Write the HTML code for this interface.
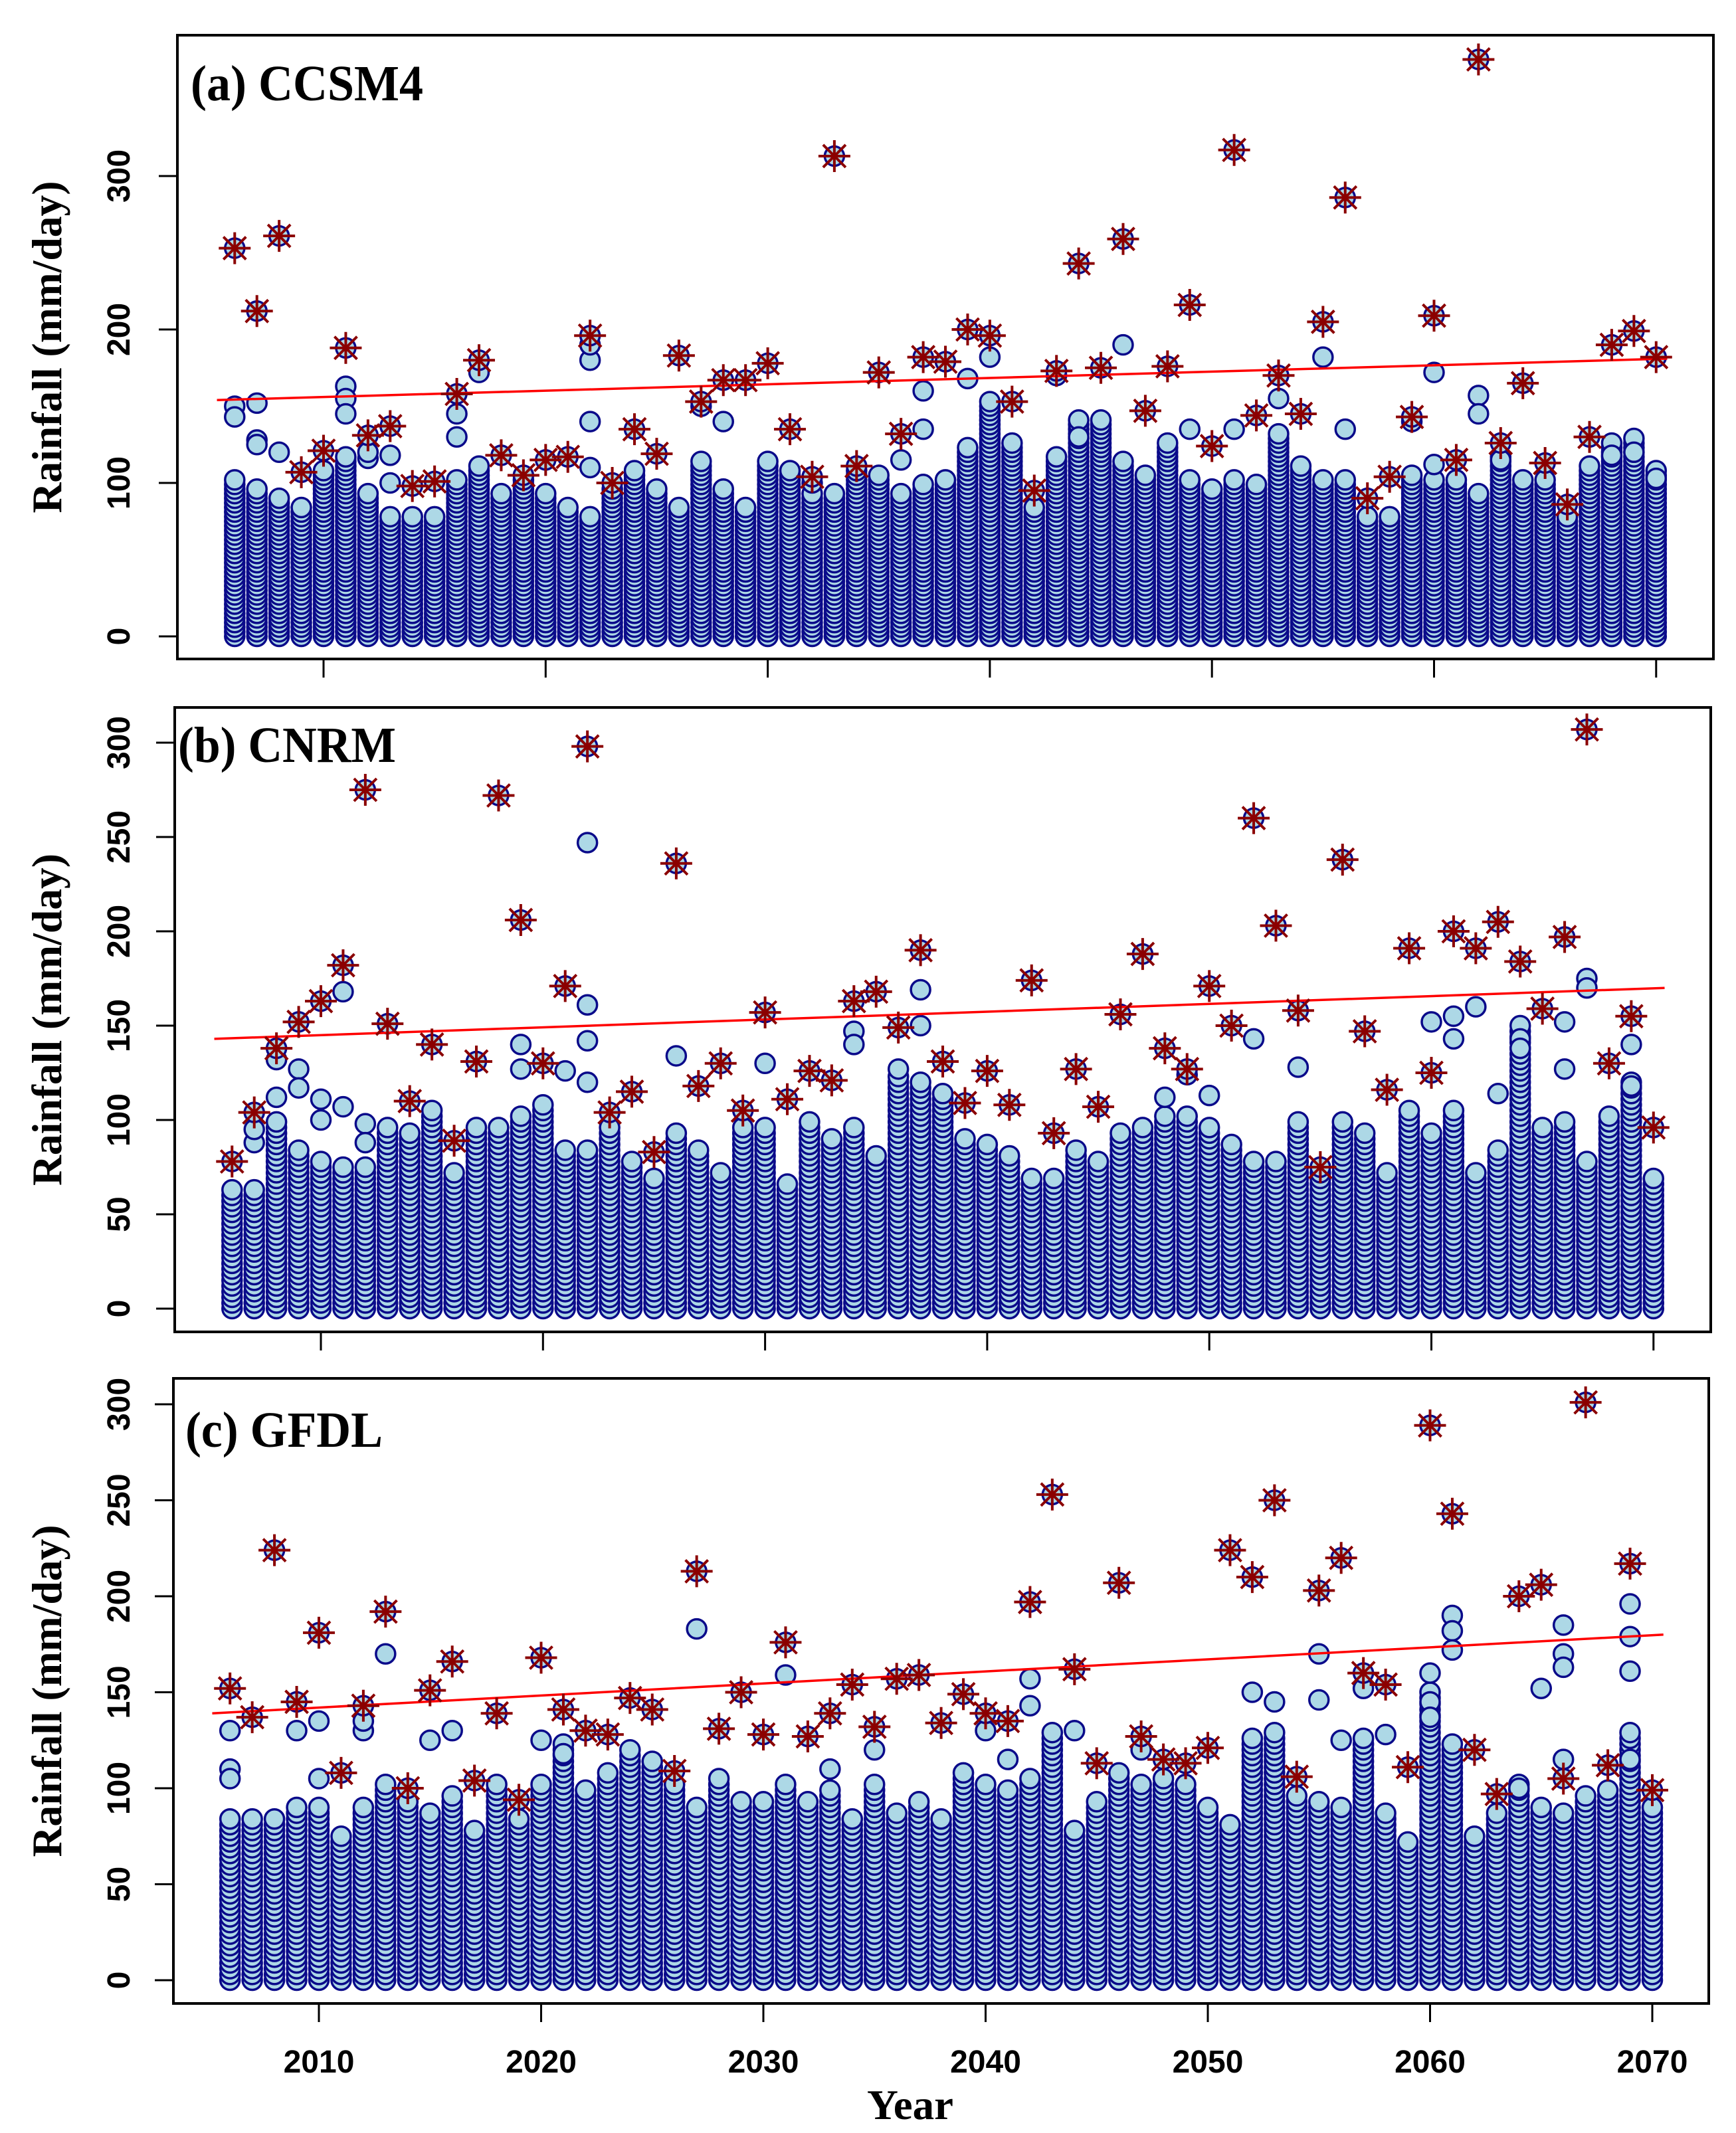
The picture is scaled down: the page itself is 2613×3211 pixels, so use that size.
<!DOCTYPE html>
<html><head><meta charset="utf-8"><style>
html,body{margin:0;padding:0;background:#fff;}
svg{display:block;}
</style></head><body>
<svg id="chart" xmlns="http://www.w3.org/2000/svg" width="2613" height="3211" viewBox="0 0 2613 3211">
<rect x="0" y="0" width="2613" height="3211" fill="#fff"/>
<g id="layer"></g>
</svg>
<script>
// ---------- DATA ----------
const years = [];
for (let y = 2006; y <= 2070; y++) years.push(y);

// annual maximum (asterisks)
const maxA = [253,212,261,107,121,188,131,137,98,101,158,180,118,105,115,117,196,100,135,119,183,153,167,167,178,135,104,313,111,172,132,182,179,200,196,153,95,173,243,175,259,147,176,216,124,317,144,170,145,205,286,90,104,143,209,115,376,126,165,113,86,130,190,199,182];
const maxB = [78,104,138,152,163,182,275,151,110,140,89,131,272,206,130,171,298,104,115,83,236,118,130,105,157,111,126,121,163,168,149,190,131,109,126,108,174,93,127,107,156,188,138,127,171,150,260,203,158,75,238,147,116,191,125,200,191,205,184,159,197,307,130,155,96];
const maxC = [152,137,224,145,181,108,143,192,100,151,166,104,139,94,168,141,130,128,147,141,109,213,131,150,128,176,127,139,154,132,157,159,134,149,139,135,197,253,162,113,207,127,115,113,121,224,210,250,106,203,220,160,154,111,289,243,120,97,200,206,105,301,112,217,99];

// top of the dense daily-rainfall column per year
const bulkA = [103,96,90,85,110,118,93,80,80,80,102,112,93,102,93,86,80,96,108,96,86,115,96,86,115,108,94,94,108,105,93,100,102,123,155,128,86,119,142,142,115,105,126,102,96,102,100,134,111,103,103,80,80,105,102,102,93,119,103,103,80,111,128,129,108];
const bulkB = [65,63,100,86,80,75,75,96,93,105,74,96,96,104,110,86,86,96,79,70,93,86,74,96,97,67,100,91,96,83,124,122,116,91,88,83,70,71,86,79,93,97,102,102,96,88,80,80,100,74,101,95,74,106,93,106,74,86,150,96,101,80,102,122,70];
const bulkC = [84,84,84,92,92,75,92,104,94,89,97,79,102,84,104,123,100,109,122,115,104,92,107,95,93,102,94,99,85,102,89,93,85,109,102,99,105,130,80,94,108,104,107,104,92,83,127,129,98,93,91,126,87,73,150,125,76,89,104,91,88,97,99,130,92];

// isolated high daily values [year, value]
const extraA = [[2006,150],[2006,143],[2007,152],[2007,128],[2007,125],[2008,120],[2011,163],[2011,155],[2011,145],[2012,116],[2012,120],[2013,118],[2013,100],[2016,145],[2016,130],[2017,172],[2022,180],[2022,190],[2022,140],[2022,110],[2027,150],[2028,140],[2032,100],[2036,115],[2037,160],[2037,135],[2039,168],[2040,182],[2043,170],[2044,130],[2046,190],[2049,135],[2051,135],[2053,155],[2055,182],[2056,135],[2059,140],[2060,172],[2060,112],[2062,157],[2062,145],[2063,115],[2068,118],[2069,120],[2070,103]];
const extraB = [[2007,88],[2007,95],[2008,132],[2008,112],[2009,127],[2009,117],[2010,111],[2010,100],[2011,168],[2011,107],[2012,98],[2012,88],[2019,140],[2019,127],[2021,126],[2022,247],[2022,161],[2022,142],[2022,120],[2026,134],[2030,130],[2034,147],[2034,140],[2036,127],[2037,169],[2037,150],[2048,112],[2049,124],[2050,113],[2052,143],[2054,128],[2060,152],[2061,155],[2061,143],[2062,160],[2063,114],[2064,143],[2064,138],[2066,152],[2066,127],[2067,175],[2067,170],[2069,140],[2069,118]];
const extraC = [[2006,130],[2006,110],[2006,105],[2009,130],[2010,135],[2010,105],[2012,130],[2012,135],[2013,170],[2015,125],[2016,130],[2020,125],[2021,118],[2027,183],[2031,159],[2033,110],[2035,120],[2040,130],[2041,115],[2042,143],[2042,157],[2044,130],[2047,120],[2052,150],[2053,145],[2055,170],[2055,146],[2056,125],[2057,152],[2058,128],[2060,160],[2060,145],[2060,137],[2061,190],[2061,182],[2061,172],[2064,100],[2065,152],[2066,185],[2066,170],[2066,163],[2066,115],[2069,196],[2069,179],[2069,161],[2069,115]];

// trend line values at start/end years
const trendYears = [2005.2, 2070.5];
const trendA = [154, 181];
const trendB = [143, 170];
const trendC = [139, 180];

const ticksA = [0,100,200,300];
const ticksBC = [0,50,100,150,200,250,300];
const xTicks = [2010,2020,2030,2040,2050,2060,2070];
const titles = ["(a) CCSM4","(b) CNRM","(c) GFDL"];

// ---------- DRAW ----------
const NS = "http://www.w3.org/2000/svg";
const layer = document.getElementById("layer");
function mk(tag, attrs, parent) {
  const e = document.createElementNS(NS, tag);
  for (const k in attrs) e.setAttribute(k, attrs[k]);
  (parent || layer).appendChild(e);
  return e;
}

const panels = [
  {L:267,T:53,R:2579,B:992,x2010:487,ppy:33.43,y0:958,ppu:2.31,ticks:ticksA,max:maxA,bulk:bulkA,extra:extraA,trend:trendA,title:titles[0],tx:287,tb:151,tw:350,name:"panel-a-ccsm4"},
  {L:263,T:1065,R:2575,B:2005,x2010:483,ppy:33.43,y0:1970,ppu:2.84,ticks:ticksBC,max:maxB,bulk:bulkB,extra:extraB,trend:trendB,title:titles[1],tx:268,tb:1147,tw:328,name:"panel-b-cnrm"},
  {L:261,T:2075,R:2572,B:3016,x2010:480,ppy:33.45,y0:2981,ppu:2.89,ticks:ticksBC,max:maxC,bulk:bulkC,extra:extraC,trend:trendC,title:titles[2],tx:279,tb:2178,tw:297,name:"panel-c-gfdl"}
];

const CR = 14.5, CFILL = "#ADD8E6", CSTROKE = "#0A0A8A";

panels.forEach((p, pi) => {
  const g = mk("g", {});
  
  
  const xs = yr => p.x2010 + (yr - 2010) * p.ppy;
  const ys = v => p.y0 - v * p.ppu;

  const pts = mk("g", {fill: CFILL, stroke: CSTROKE, "stroke-width": 3.5}, g);
  
  
  years.forEach((yr, i) => {
    for (let v = 0; v <= p.bulk[i]; v += 3) {
      const c = mk("circle", {cx: xs(yr), cy: ys(v), r: CR}, pts);
      
      
    }
  });
  p.extra.forEach(d => {
    const c = mk("circle", {cx: xs(d[0]), cy: ys(d[1]), r: CR}, pts);
    
    
  });
  years.forEach((yr, i) => {
    const c = mk("circle", {cx: xs(yr), cy: ys(p.max[i]), r: CR}, pts);
    
    
  });

  const tl = mk("line", {x1: xs(trendYears[0]), y1: ys(p.trend[0]), x2: xs(trendYears[1]), y2: ys(p.trend[1]), stroke: "#FF0000", "stroke-width": 3.5}, g);
  
  

  const st = mk("g", {stroke: "#8B0000", "stroke-width": 4}, g);
  
  
  years.forEach((yr, i) => {
    const cx = xs(yr), cy = ys(p.max[i]);
    const d = `M${cx-24},${cy}H${cx+24}M${cx},${cy-24}V${cy+24}M${cx-17},${cy-17}L${cx+17},${cy+17}M${cx-17},${cy+17}L${cx+17},${cy-17}`;
    const s = mk("path", {d: d}, st);
    
    
  });

  const fr = mk("rect", {x: p.L, y: p.T, width: p.R - p.L, height: p.B - p.T, fill: "none", stroke: "#000", "stroke-width": 4}, g);
  
  

  p.ticks.forEach(t => {
    const y = ys(t);
    const tk = mk("line", {x1: p.L - 28, y1: y, x2: p.L, y2: y, stroke: "#000", "stroke-width": 3}, g);
    
    
    const tx = mk("text", {transform: `translate(195,${y}) rotate(-90)`, "text-anchor": "middle", "font-family": "Liberation Sans, Arial, sans-serif", "font-weight": "bold", "font-size": 48, fill: "#000"}, g);
    tx.textContent = t;
    
    
  });

  xTicks.forEach(t => {
    const x = xs(t);
    const tk = mk("line", {x1: x, y1: p.B, x2: x, y2: p.B + 28, stroke: "#000", "stroke-width": 3}, g);
    
    
    if (pi === 2) {
      const tx = mk("text", {x: x, y: 3120, "text-anchor": "middle", "font-family": "Liberation Sans, Arial, sans-serif", "font-weight": "bold", "font-size": 48, fill: "#000"}, g);
      tx.textContent = t;
      
      
    }
  });

  const cy = (p.T + p.B) / 2;
  const yl = mk("text", {transform: `translate(92,${cy}) rotate(-90)`, "text-anchor": "middle", "font-family": "Liberation Serif, Times New Roman, serif", "font-weight": "bold", "font-size": 64, textLength: 500, lengthAdjust: "spacingAndGlyphs", fill: "#000"}, g);
  yl.textContent = "Rainfall (mm/day)";
  
  

  const tt = mk("text", {x: p.tx, y: p.tb, "font-family": "Liberation Serif, Times New Roman, serif", "font-weight": "bold", "font-size": 76, textLength: p.tw, lengthAdjust: "spacingAndGlyphs", fill: "#000"}, g);
  tt.textContent = p.title;
  
  
});

const xl = mk("text", {x: 1370, y: 3190, "text-anchor": "middle", "font-family": "Liberation Serif, Times New Roman, serif", "font-weight": "bold", "font-size": 64, textLength: 130, lengthAdjust: "spacingAndGlyphs", fill: "#000"});
xl.textContent = "Year";


</script>
</body></html>
